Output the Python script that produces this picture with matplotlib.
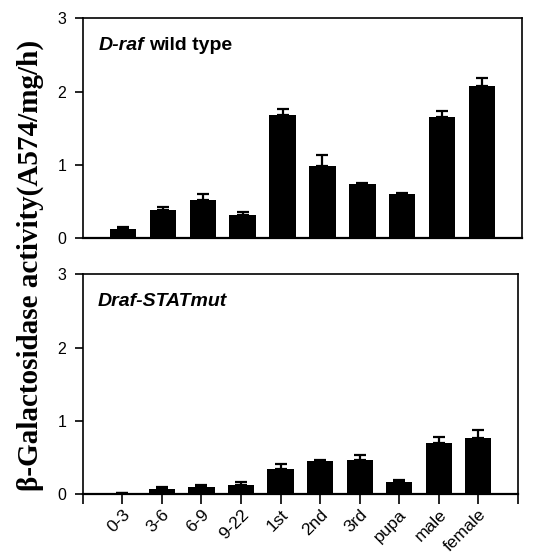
import matplotlib
matplotlib.use("Agg")
import matplotlib.pyplot as plt
import numpy as np

stages = ["0-3", "3-6", "6-9", "9-22", "1st", "2nd", "3rd", "pupa", "male", "female"]

# D-raf wild type
wt_mean = [0.13, 0.39, 0.52, 0.31, 1.68, 0.99, 0.74, 0.60, 1.66, 2.08]
wt_err = [0.02, 0.04, 0.08, 0.05, 0.08, 0.14, 0.01, 0.02, 0.07, 0.10]

# Draf-STATmut
mut_mean = [0.01, 0.07, 0.10, 0.12, 0.34, 0.45, 0.46, 0.16, 0.70, 0.77]
mut_err = [0.00, 0.03, 0.02, 0.04, 0.07, 0.02, 0.08, 0.04, 0.08, 0.10]

fig = plt.figure(figsize=(5.49, 5.54), dpi=100)
ax1 = fig.add_axes([0.151, 0.570, 0.800, 0.397])
ax2 = fig.add_axes([0.151, 0.108, 0.792, 0.397])

x = np.arange(len(stages))


def draw_panel(ax, mean, err, label_parts):
    ax.bar(x, mean, width=0.66, color="black", zorder=2)
    ax.errorbar(x, mean, yerr=[np.zeros(len(err)), err], fmt="none",
                ecolor="black", elinewidth=1.6, capsize=4, capthick=1.6, zorder=3)
    ax.set_xlim(-1, 10)
    ax.set_ylim(0, 3)
    ax.set_yticks([0, 1, 2, 3])
    ax.set_yticklabels(["0", "1", "2", "3"], family="Liberation Sans", size=11.5)
    ax.tick_params(axis="y", direction="out", length=6, width=1.2, pad=6)
    for s in ax.spines.values():
        s.set_linewidth(1.2)
    ax.spines["bottom"].set_linewidth(1.6)
    xpos = 0.035
    for txt, style in label_parts:
        t = ax.text(xpos, 0.875, txt, transform=ax.transAxes, family="Liberation Sans",
                    fontsize=14, fontweight="bold", fontstyle=style, va="center", ha="left")
        fig.canvas.draw()
        bb = t.get_window_extent().transformed(ax.transAxes.inverted())
        xpos = bb.x1 + 0.012


draw_panel(ax1, wt_mean, wt_err, [("D-raf", "italic"), ("wild type", "normal")])
ax1.set_xticks([])

draw_panel(ax2, mut_mean, mut_err, [("Draf-STATmut", "italic")])
ax2.set_xticks(np.arange(-1, 11))
ax2.set_xticklabels([""] + stages + [""], rotation=45, ha="right",
                    rotation_mode="anchor", family="Liberation Sans", size=12.5)
ax2.tick_params(axis="x", direction="out", length=7, width=1.2, pad=2)

fig.text(0.055, 0.52, "\u03b2-Galactosidase activity(A574/mg/h)", rotation=90,
         family="Liberation Serif", fontsize=21, fontweight="bold",
         ha="center", va="center")

fig.savefig("out.png", dpi=100)
